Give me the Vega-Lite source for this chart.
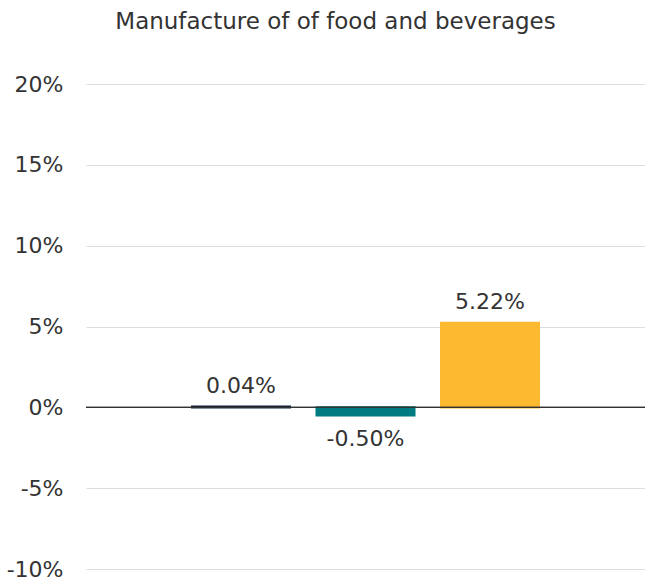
{
  "$schema": "https://vega.github.io/schema/vega-lite/v6.json",
  "width": 559,
  "height": 485,
  "autosize": {"type": "none"},
  "padding": {"left": 86, "top": 84, "right": 0, "bottom": 13},
  "background": "white",
  "title": {
    "text": "Manufacture of of food and beverages",
    "font": "DejaVu Sans",
    "fontSize": 23,
    "fontWeight": "normal",
    "color": "#333333",
    "anchor": "middle",
    "frame": "group",
    "dx": -30,
    "offset": 39
  },
  "config": {
    "view": {"stroke": null},
    "font": "DejaVu Sans"
  },
  "data": {
    "values": [
      {"series": "Series 1", "value": 0.04},
      {"series": "Series 2", "value": -0.5},
      {"series": "Series 3", "value": 5.22}
    ]
  },
  "transform": [
    {"calculate": "replace(format(datum.value, '.2f'), '\u2212', '-') + '%'", "as": "label"}
  ],
  "encoding": {
    "x": {
      "field": "series",
      "type": "nominal",
      "sort": null,
      "axis": null,
      "scale": {"paddingInner": 0.216, "paddingOuter": 0.853}
    }
  },
  "layer": [
    {
      "mark": {"type": "bar", "strokeWidth": 2.4},
      "encoding": {
        "y": {
          "field": "value",
          "type": "quantitative",
          "scale": {"domain": [-10, 20], "nice": false, "zero": false},
          "axis": {
            "values": [-10, -5, 0, 5, 10, 15, 20],
            "labelExpr": "datum.value + '%'",
            "title": null,
            "domain": false,
            "ticks": false,
            "labelFont": "DejaVu Sans",
            "labelFontSize": 22,
            "labelColor": "#333333",
            "labelAlign": "right",
            "labelPadding": 23,
            "grid": true,
            "gridColor": "#dddddd",
            "gridWidth": 1
          }
        },
        "color": {
          "field": "series",
          "type": "nominal",
          "legend": null,
          "scale": {"range": ["#0b2239", "#007b82", "#fdb92f"]}
        },
        "stroke": {
          "field": "series",
          "type": "nominal",
          "legend": null,
          "scale": {"range": ["#0b2239", "#007b82", "#fdb92f"]}
        }
      }
    },
    {
      "mark": {"type": "rule", "color": "#333333", "strokeWidth": 1},
      "encoding": {"y": {"datum": 0}, "x": null}
    },
    {
      "transform": [{"filter": "datum.value >= 0"}],
      "mark": {"type": "text", "baseline": "alphabetic", "dy": -14, "fontSize": 22, "color": "#333333"},
      "encoding": {
        "y": {"field": "value", "type": "quantitative"},
        "text": {"field": "label", "type": "nominal"}
      }
    },
    {
      "transform": [{"filter": "datum.value < 0"}],
      "mark": {"type": "text", "baseline": "alphabetic", "dy": 31, "fontSize": 22, "color": "#333333"},
      "encoding": {
        "y": {"field": "value", "type": "quantitative"},
        "text": {"field": "label", "type": "nominal"}
      }
    }
  ]
}
